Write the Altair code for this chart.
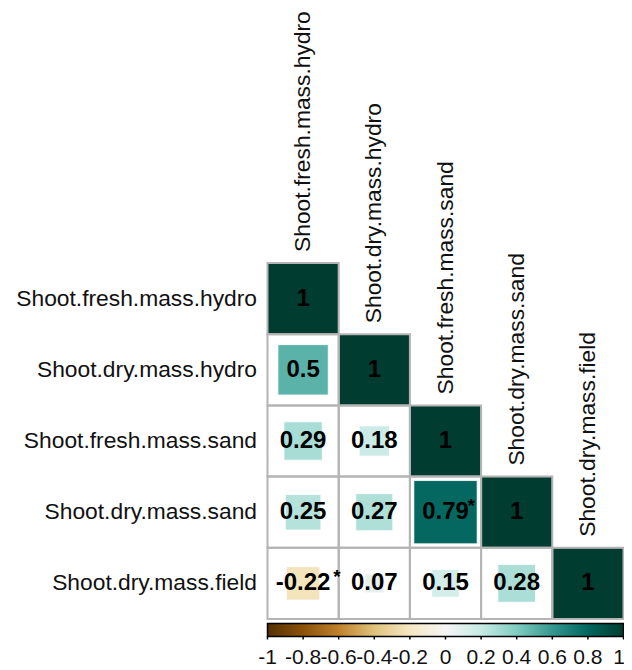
import altair as alt
import pandas as pd

variables = [
    "Shoot.fresh.mass.hydro",
    "Shoot.dry.mass.hydro",
    "Shoot.fresh.mass.sand",
    "Shoot.dry.mass.sand",
    "Shoot.dry.mass.field",
]
# lower-triangle correlation values, row by row
corr_rows = [
    [1],
    [0.5, 1],
    [0.29, 0.18, 1],
    [0.25, 0.27, 0.79, 1],
    [-0.22, 0.07, 0.15, 0.28, 1],
]
# significance stars
sig_rows = [
    [False],
    [False, False],
    [False, False, False],
    [False, False, True, False],
    [True, False, False, False, False],
]
legend_ticks = [-1, -0.8, -0.6, -0.4, -0.2, 0, 0.2, 0.4, 0.6, 0.8, 1]
# BrBG palette
brbg_stops = [-1, -0.8, -0.6, -0.4, -0.2, 0, 0.2, 0.4, 0.6, 0.8, 1]
brbg_colors = ["#543005", "#8c510a", "#bf812d", "#dfc27d", "#f6e8c3", "#f5f5f5",
               "#c7eae5", "#80cdc1", "#35978f", "#01665e", "#003c30"]

# ---- layout (pixels, svg coordinates; page = svg + 8) ----
CELL = 71.2
X0 = 259.5   # left edge of matrix inside the svg
Y0 = 255.0   # top edge of matrix inside the svg
W = 616
H = 662
FONT = "Liberation Sans"
LABEL_SIZE = 22.8

cells = []
for i, row in enumerate(corr_rows):
    for j, r in enumerate(row):
        cells.append({
            "row": i, "col": j, "r": r,
            "label": ("%g" % r),
            "sig": sig_rows[i][j],
        })
df = pd.DataFrame(cells)
df_vars = pd.DataFrame({"name": variables, "idx": list(range(len(variables)))})
df_ticks = pd.DataFrame({"t": legend_ticks, "lab": ["%g" % t for t in legend_ticks]})
df_bar = pd.DataFrame({"lo": [brbg_stops[0]], "hi": [brbg_stops[-1]]})

xs = alt.Scale(domain=[-X0 / CELL, (W - X0) / CELL], nice=False, zero=False)
ys = alt.Scale(domain=[-Y0 / CELL, (H - Y0) / CELL], nice=False, zero=False, reverse=True)

base = alt.Chart(df)

squares = base.transform_calculate(
    half="sqrt(abs(datum.r))/2",
    x1="datum.col + 0.5 - datum.half",
    x2="datum.col + 0.5 + datum.half",
    y1="datum.row + 0.5 - datum.half",
    y2="datum.row + 0.5 + datum.half",
).mark_rect(stroke="white", strokeWidth=0.8).encode(
    x=alt.X("x1:Q", scale=xs, axis=None),
    x2="x2:Q",
    y=alt.Y("y1:Q", scale=ys, axis=None),
    y2="y2:Q",
    color=alt.Color(
        "r:Q",
        scale=alt.Scale(domain=brbg_stops, range=brbg_colors, interpolate="rgb"),
        legend=None,
    ),
)

grid = base.transform_calculate(
    cx2="datum.col + 1",
    cy2="datum.row + 1",
).mark_rect(fillOpacity=0, stroke="#b4b4b4", strokeWidth=2).encode(
    x=alt.X("col:Q", scale=xs, axis=None),
    x2="cx2:Q",
    y=alt.Y("row:Q", scale=ys, axis=None),
    y2="cy2:Q",
)

numbers = base.transform_calculate(
    cx="datum.col + 0.5",
    cy="datum.row + 0.5",
).mark_text(font=FONT, fontSize=24, fontWeight="bold", color="black",
            align="center", baseline="middle").encode(
    x=alt.X("cx:Q", scale=xs, axis=None),
    y=alt.Y("cy:Q", scale=ys, axis=None),
    text="label:N",
)

stars = base.transform_filter("datum.sig").transform_calculate(
    sx="datum.col + 0.5 + 0.115 * length(datum.label) - 0.15",
    cy="datum.row + 0.5",
).mark_text(font=FONT, fontSize=19, fontWeight="bold", color="black",
            align="left", baseline="middle", dy=-6).encode(
    x=alt.X("sx:Q", scale=xs, axis=None),
    y=alt.Y("cy:Q", scale=ys, axis=None),
    text=alt.value("*"),
)

row_labels = alt.Chart(df_vars).transform_calculate(
    lx=str(-10.5 / CELL),
    cy="datum.idx + 0.5",
).mark_text(font=FONT, fontSize=LABEL_SIZE, color="#111111", align="right",
            baseline="middle").encode(
    x=alt.X("lx:Q", scale=xs, axis=None),
    y=alt.Y("cy:Q", scale=ys, axis=None),
    text="name:N",
)

col_labels = alt.Chart(df_vars).transform_calculate(
    cx="datum.idx + 0.5",
    ty=str("datum.idx - %f" % (11.0 / CELL)),
).mark_text(font=FONT, fontSize=LABEL_SIZE, color="#111111", align="left",
            baseline="middle", angle=270).encode(
    x=alt.X("cx:Q", scale=xs, axis=None),
    y=alt.Y("ty:Q", scale=ys, axis=None),
    text="name:N",
)

# colour bar
BAR_TOP = 5 + 4.5 / CELL
BAR_BOT = 5 + 17.5 / CELL
bar = alt.Chart(df_bar).transform_calculate(
    bx1="(datum.lo + 1) * 2.5",
    bx2="(datum.hi + 1) * 2.5",
    by1=str(BAR_TOP),
    by2=str(BAR_BOT),
).mark_rect(
    fill=alt.Gradient(
        gradient="linear",
        x1=0, x2=1, y1=0, y2=0,
        stops=[alt.GradientStop(color=c, offset=(s + 1) / 2)
               for s, c in zip(brbg_stops, brbg_colors)],
    ),
    stroke="black",
    strokeWidth=1.5,
).encode(
    x=alt.X("bx1:Q", scale=xs, axis=None),
    x2="bx2:Q",
    y=alt.Y("by1:Q", scale=ys, axis=None),
    y2="by2:Q",
)

ticks = alt.Chart(df_ticks).transform_calculate(
    tx="(datum.t + 1) * 2.5",
    ty1=str(BAR_BOT),
    ty2=str(BAR_BOT + 3.0 / CELL),
).mark_rule(color="black", strokeWidth=1.5).encode(
    x=alt.X("tx:Q", scale=xs, axis=None),
    y=alt.Y("ty1:Q", scale=ys, axis=None),
    y2="ty2:Q",
)

tick_labels = alt.Chart(df_ticks).transform_calculate(
    tx="min((datum.t + 1) * 2.5, 5 - %f)" % (4.5 / CELL),
    ty=str(5 + 39.0 / CELL),
).mark_text(font=FONT, fontSize=21, color="#111111", align="center",
            baseline="middle").encode(
    x=alt.X("tx:Q", scale=xs, axis=None),
    y=alt.Y("ty:Q", scale=ys, axis=None),
    text="lab:N",
)

chart = alt.layer(squares, grid, numbers, stars, row_labels, col_labels,
                  bar, ticks, tick_labels).properties(
    width=W,
    height=H,
    autosize=alt.AutoSizeParams(type="none"),
    padding=0,
    background="white",
).configure_view(stroke=None)

chart.save("out.html", embed_options={"renderer": "svg", "actions": False})
